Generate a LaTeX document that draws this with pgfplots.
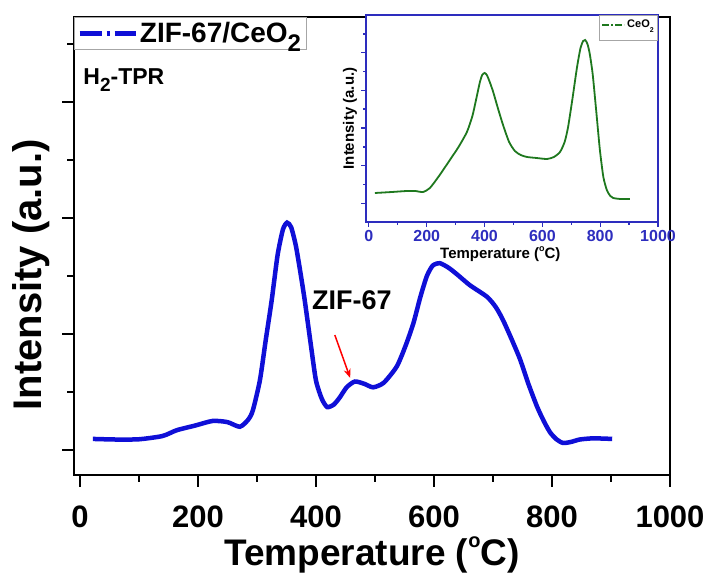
\documentclass[border=0pt]{standalone}
\usepackage{fontspec}
\setmainfont{Liberation Sans}
\usepackage{pgfplots}
\pgfplotsset{compat=1.18}
\usetikzlibrary{arrows.meta}
\definecolor{mainblue}{RGB}{15,15,215}
\definecolor{insetblue}{RGB}{45,45,190}
\definecolor{cgreen}{RGB}{30,120,30}
\begin{document}
\begin{tikzpicture}
\useasboundingbox (0pt,0pt) rectangle (715pt,575pt);
\begin{axis}[
  at={(74pt,100pt)}, anchor=south west,
  scale only axis, width=596pt, height=458pt,
  xmin=-10, xmax=1000, ymin=-0.216, ymax=3.733,
  axis line style={line width=2.6pt},
  tick pos=left, tick align=outside,
  major tick length=12pt, minor tick length=7pt,
  tick style={line width=2.6pt, black},
  xtick={0,200,...,1000}, minor xtick={100,300,...,900},
  ytick={0,1,2,3}, minor ytick={0.5,1.5,2.5,3.5},
  yticklabels={},
  /pgf/number format/assume math mode=true,
  /pgf/number format/1000 sep={},
  xticklabel style={font=\bfseries\fontsize{31}{31}\selectfont, anchor=north, inner sep=0pt, yshift=-19pt},
  xlabel={Temperature (\raisebox{0.5em}{\fontsize{20}{20}\selectfont o}C)},
  xlabel style={font=\bfseries\fontsize{37}{37}\selectfont, at={(axis description cs:0.5,0)}, anchor=center, yshift=-80pt},
  ylabel={Intensity (a.u.)},
  ylabel style={font=\bfseries\fontsize{40}{40}\selectfont, at={(axis description cs:-0.072,0.437)}, anchor=center},
  legend image code/.code={\draw[#1] (0pt,0pt) -- (56pt,0pt);},
  legend style={at={(0,1)}, anchor=north west, draw=gray!70, line width=0.8pt, fill=white,
    font=\bfseries\fontsize{28}{28}\selectfont, inner xsep=3pt, inner ysep=3pt},
  legend cell align=left,
]
\addplot[mainblue, line width=4.5pt, smooth, tension=0.4, forget plot] coordinates {
(22,0.095) (60,0.09) (100,0.092) (140,0.12) (164,0.17) (195,0.21) (225,0.25) (250,0.24)
(271,0.20) (285,0.26) (293,0.34) (305,0.60) (315,0.95) (325,1.29) (335,1.68) (344,1.90) (351,1.96)
(358,1.92) (366,1.76) (374,1.52) (381,1.29) (391,0.92) (400,0.60) (410,0.44) (419,0.37) (430,0.39)
(440,0.45) (452,0.54) (466,0.59) (482,0.57) (497,0.54) (515,0.58) (537,0.72) (552,0.90)
(565,1.09) (577,1.32) (588,1.50) (598,1.59) (610,1.61) (625,1.57) (640,1.51) (661,1.42)
(690,1.32) (705,1.23) (717,1.12) (732,0.95) (746,0.78) (760,0.57) (775,0.37) (787,0.24)
(797,0.15) (808,0.09) (819,0.06) (833,0.07) (847,0.09) (870,0.10) (902,0.095)
};
\addlegendimage{mainblue, line width=4.5pt, dash pattern=on 22pt off 5pt on 3pt off 5pt}
\addlegendentry{ZIF-67/CeO\raisebox{-0.3em}{\fontsize{24}{24}\selectfont 2}}
\node[anchor=base west, font=\bfseries\fontsize{23}{23}\selectfont] at (axis description cs:0.01,0.852) {H\raisebox{-0.3em}{\fontsize{19}{19}\selectfont 2}-TPR};
\node[anchor=base, font=\bfseries\fontsize{27}{27}\selectfont] at (axis cs:461,1.207) {ZIF-67};
\draw[red, line width=1.5pt, -{Stealth[length=9pt,width=7pt]}] (axis cs:432,0.991) -- (axis cs:458,0.621);
\end{axis}
\begin{axis}[
  at={(366pt,353pt)}, anchor=south west,
  scale only axis, width=292pt, height=207pt,
  xmin=-10, xmax=1000, ymin=0, ymax=207,
  axis background/.style={fill=white},
  axis line style={insetblue, line width=1.5pt},
  tick pos=left, tick align=outside,
  major tick length=5pt, minor tick length=3pt,
  tick style={insetblue, line width=1.2pt},
  xtick={0,200,...,1000}, minor xtick={100,300,...,900},
  ytick={18.7,56.3,94,131.7,169.4}, minor ytick={37.5,75,113,150.5,188},
  yticklabels={},
  /pgf/number format/assume math mode=true,
  /pgf/number format/1000 sep={},
  xticklabel style={insetblue, font=\bfseries\fontsize{16}{16}\selectfont, anchor=north, inner sep=0pt, yshift=-3pt},
  xlabel={Temperature (\raisebox{0.5em}{\fontsize{9}{9}\selectfont o}C)},
  xlabel style={font=\bfseries\fontsize{15}{15}\selectfont, at={(axis description cs:0.46,0)}, anchor=center, yshift=-32pt},
  ylabel={Intensity (a.u.)},
  ylabel style={font=\bfseries\fontsize{15}{15}\selectfont, at={(axis description cs:-0.055,0.5)}, anchor=center},
  legend image code/.code={\draw[#1] (0pt,0pt) -- (22pt,0pt);},
  legend style={at={(1,1)}, anchor=north east, draw=gray!70, line width=0.6pt, fill=white,
    font=\bfseries\fontsize{11}{11}\selectfont, inner xsep=2pt, inner ysep=3pt},
  legend cell align=left,
]
\addplot[cgreen, line width=1.8pt, smooth, tension=0.4, forget plot] coordinates {
(21,29) (80,30) (131,31) (160,31) (187,30) (211,34) (245,47) (280,62) (310,75) (339,90)
(358,106) (372,124) (384,140) (392,147) (400,149) (408,147) (418,140) (430,130) (446,114) (464,97) (485,80)
(505,71) (525,67) (547,65) (580,64) (616,63) (640,65) (661,70) (677,80) (689,95) (705,125)
(720,155) (732,174) (741,181) (748,182) (756,178) (764,168) (774,148) (786,112) (799,72) (811,45) (823,32)
(835,26) (845,24) (870,23) (903,23)
};
\addlegendimage{cgreen, line width=1.8pt, dash pattern=on 7pt off 2pt on 2pt off 2pt}
\addlegendentry{CeO\raisebox{-0.4em}{\fontsize{7}{7}\selectfont 2}}
\addlegendimage{empty legend}
\addlegendentry{}
\end{axis}
\end{tikzpicture}
\end{document}
